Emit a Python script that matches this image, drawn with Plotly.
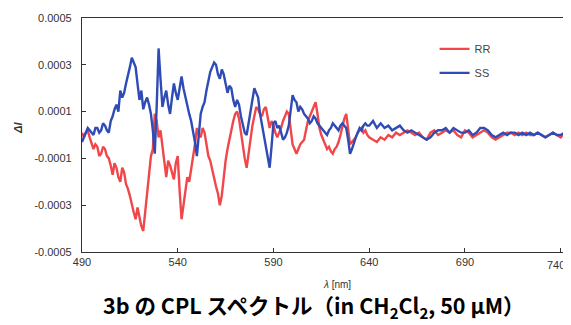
import plotly.graph_objects as go

# wavelength grid (nm): 1 nm steps up to 639, then 2 nm steps
wavelength = list(range(490, 640)) + list(range(640, 746, 2))

# ΔI values in units of 1e-4
rr_e4 = [
    0.1, -0.1, 0.1, 0.2, -0.1, -0.4, -0.6, -0.4, -0.5, -0.9,
    -0.8, -0.5, -0.6, -0.9, -1.0, -1.3, -1.7, -1.2, -1.4, -1.8,
    -2.0, -1.4, -1.6, -2.1, -2.3, -2.6, -3.0, -3.3, -3.6, -3.1,
    -3.5, -3.9, -4.1, -3.3, -2.5, -1.6, -0.9, -0.6, 0.9, 0.6,
    -0.1, 0.2, -0.5, -1.2, -1.8, -1.1, -1.3, -1.6, -1.9, -1.2,
    -0.9, -2.4, -3.6, -3.0, -2.3, -1.8, -2.0, -1.5, -1.0, -0.4,
    0.3, 0.0, -0.1, 0.3, 0.1, -0.4, -0.9, -1.1, -1.5, -1.8,
    -2.2, -2.5, -3.0, -2.6, -1.8, -1.1, -0.6, -0.2, 0.3, 0.6,
    0.9, 1.0, 0.7, 0.1, -0.4, -1.0, -1.4, -0.9, -0.2, 0.4,
    0.9, 1.2, 1.1, 0.9, 0.8, 1.1, 1.2, 0.8, 0.3, 0.6,
    0.4, 0.1, -0.1, 0.1, 0.3, 0.6, 0.8, 1.0, 0.9, 0.3,
    -0.4, -0.6, -0.8, -0.6, -0.4, -0.3, -0.2, 0.2, 0.6, 0.8,
    1.0, 1.2, 1.4, 0.9, 0.3, 0.0, -0.2, -0.4, -0.6, -0.5,
    -0.7, -0.8, -0.6, -0.5, -0.3, 0.0, 0.4, 0.7, 0.9, 0.3,
    -0.4, -0.3, -0.2, -0.1, 0.1, 0.2, 0.3, 0.1, 0.2, 0.0,
    # 640 .. 744 (2 nm)
    -0.1, -0.2, -0.3, -0.1, -0.2,
    0.0, -0.1, 0.1, 0.0, 0.1, 0.2, 0.1, 0.0, 0.1, -0.1,
    -0.2, 0.1, 0.2, 0.0, 0.1, 0.2, 0.1, 0.2, 0.0, -0.1,
    0.2, 0.1, -0.1, 0.0, 0.1, 0.2, 0.1, -0.1, -0.2, -0.1,
    0.0, 0.1, 0.1, 0.0, 0.1, 0.0, 0.1, 0.0, 0.0, 0.1,
    0.0, -0.1, 0.0, 0.1, 0.0, -0.1, 0.1, 0.0,
]
ss_e4 = [
    -0.3, -0.1, 0.1, 0.3, 0.2, 0.1, 0.0, 0.3, 0.3, 0.1,
    0.2, 0.5, 0.4, 0.2, 0.1, 0.6, 0.8, 1.1, 1.3, 1.0,
    1.9, 1.6, 1.8, 2.2, 2.5, 2.9, 3.3, 3.1, 2.9, 2.2,
    1.5, 1.9, 1.1, 1.4, 1.6, 1.3, 0.9, 0.2, -0.8, 1.2,
    3.7, 2.4, 1.2, 1.6, 1.9, 1.3, 0.9, 1.6, 2.2, 1.8,
    1.5, 2.0, 2.5, 2.0, 1.6, 1.2, 0.9, 0.6, 0.2, -0.3,
    -0.9, 0.2, 0.9, 1.2, 1.4, 1.9, 2.4, 2.7, 2.9, 3.1,
    3.0, 2.6, 2.4, 2.8, 2.6, 2.2, 1.8, 2.1, 2.0, 1.5,
    1.2, 1.5, 1.3, 0.8, 0.4, 0.1, 0.0, 0.5, 1.0, 1.6,
    2.0, 1.8, 1.6, 0.9, 0.4, 0.0, -0.4, -0.9, -1.4, -0.5,
    0.5, 0.6, 0.3, 0.4, 0.1, -0.2, -0.1, 0.1, 0.4, 1.1,
    1.7, 1.5, 1.4, 1.0, 1.2, 1.1, 0.9, 0.8, 0.7, 0.5,
    0.6, 0.8, 0.7, 0.5, 0.4, 0.3, 0.2, 0.1, 0.0, 0.2,
    0.3, 0.5, 0.4, 0.3, 0.2, 0.4, 0.5, 0.4, 0.3, -0.2,
    -0.8, -0.6, -0.3, -0.1, 0.1, 0.3, 0.2, 0.4, 0.5, 0.4,
    # 640 .. 744 (2 nm)
    0.4, 0.6, 0.3, 0.5, 0.3,
    0.4, 0.2, 0.3, 0.4, 0.2, 0.1, 0.2, 0.1, 0.0, -0.1,
    -0.2, -0.1, 0.1, 0.2, 0.2, 0.3, 0.1, 0.3, 0.2, 0.1,
    0.1, 0.2, 0.0, 0.1, 0.3, 0.3, 0.2, 0.0, -0.1, 0.0,
    0.1, 0.0, 0.1, 0.1, 0.0, 0.1, 0.0, 0.1, 0.0, 0.1,
    0.0, -0.1, 0.0, 0.1, 0.0, 0.0, 0.1, 0.0,
]

rr = [v * 1e-4 for v in rr_e4]
ss = [v * 1e-4 for v in ss_e4]

x_ticks = [490, 540, 590, 640, 690, 740]
x_tick_text = ["490", "540", "590", "640", "690", ""]   # last label drawn below so it fits
last_x_label = "740"
y_ticks = [0.0005, 0.0003, 0.0001, -0.0001, -0.0003, -0.0005]
y_tick_text = ["0.0005", "0.0003", "0.0001", "-0.0001", "-0.0003", "-0.0005"]

RED = "#f0474b"
BLUE = "#2f4bb5"
FONT = "Liberation Sans, Arial, sans-serif"

fig = go.Figure()
fig.add_trace(go.Scatter(x=wavelength, y=rr, mode="lines", name="RR",
                         line=dict(color=RED, width=2.4), legendgroup="rr"))
fig.add_trace(go.Scatter(x=wavelength, y=ss, mode="lines", name="SS",
                         line=dict(color=BLUE, width=2.4), legendgroup="ss"))

fig.update_layout(
    width=563, height=317,
    margin=dict(l=74, r=0, t=10, b=73),
    paper_bgcolor="white", plot_bgcolor="white",
    font=dict(family=FONT, size=11, color="#333333"),
    showlegend=True,
    legend=dict(x=0.721, y=0.93, xanchor="left", yanchor="top",
                bgcolor="rgba(0,0,0,0)", tracegroupgap=5,
                font=dict(size=11, color="#444444"), itemwidth=30),
    xaxis=dict(range=[490, 745.4], tickvals=x_ticks, ticktext=x_tick_text,
               ticks="inside",
               ticklen=4, tickcolor="#333", showline=True, linecolor="#333",
               linewidth=1.2, mirror=True, showgrid=False, zeroline=False,
               tickfont=dict(size=11, color="#333")),
    yaxis=dict(range=[-0.0005, 0.0005], tickvals=y_ticks, ticktext=y_tick_text,
               ticks="inside", ticklen=4, tickcolor="#333", showline=True,
               linecolor="#333", linewidth=1.2, showgrid=False, zeroline=False,
               ticklabelstandoff=7, tickfont=dict(size=11, color="#333")),
    annotations=[
        dict(text=last_x_label, xref="x", yref="paper", x=x_ticks[-1], y=0,
             xanchor="center", yanchor="top", yshift=-5, xshift=-5, showarrow=False,
             font=dict(size=11, color="#333")),
        dict(text="<i>λ</i> [nm]", xref="paper", yref="paper", x=0.521, y=-0.137,
             xanchor="center", yanchor="middle", showarrow=False,
             font=dict(size=10, color="#333")),
        dict(text="<i><b>ΔI</b></i>", xref="paper", yref="paper", x=-0.131, y=0.53,
             xanchor="center", yanchor="middle", showarrow=False, textangle=-90,
             font=dict(size=11, color="#333")),
        dict(text="<b>3b の CPL スペクトル（in CH<sub>2</sub>Cl<sub>2</sub>, 50 μM）</b>",
             xref="paper", yref="paper", x=0.474, y=-0.232,
             xanchor="center", yanchor="middle", showarrow=False,
             font=dict(size=21.5, color="black", family="Noto Sans CJK JP, Liberation Sans, sans-serif")),
    ],
)

fig.write_html("out.html")
